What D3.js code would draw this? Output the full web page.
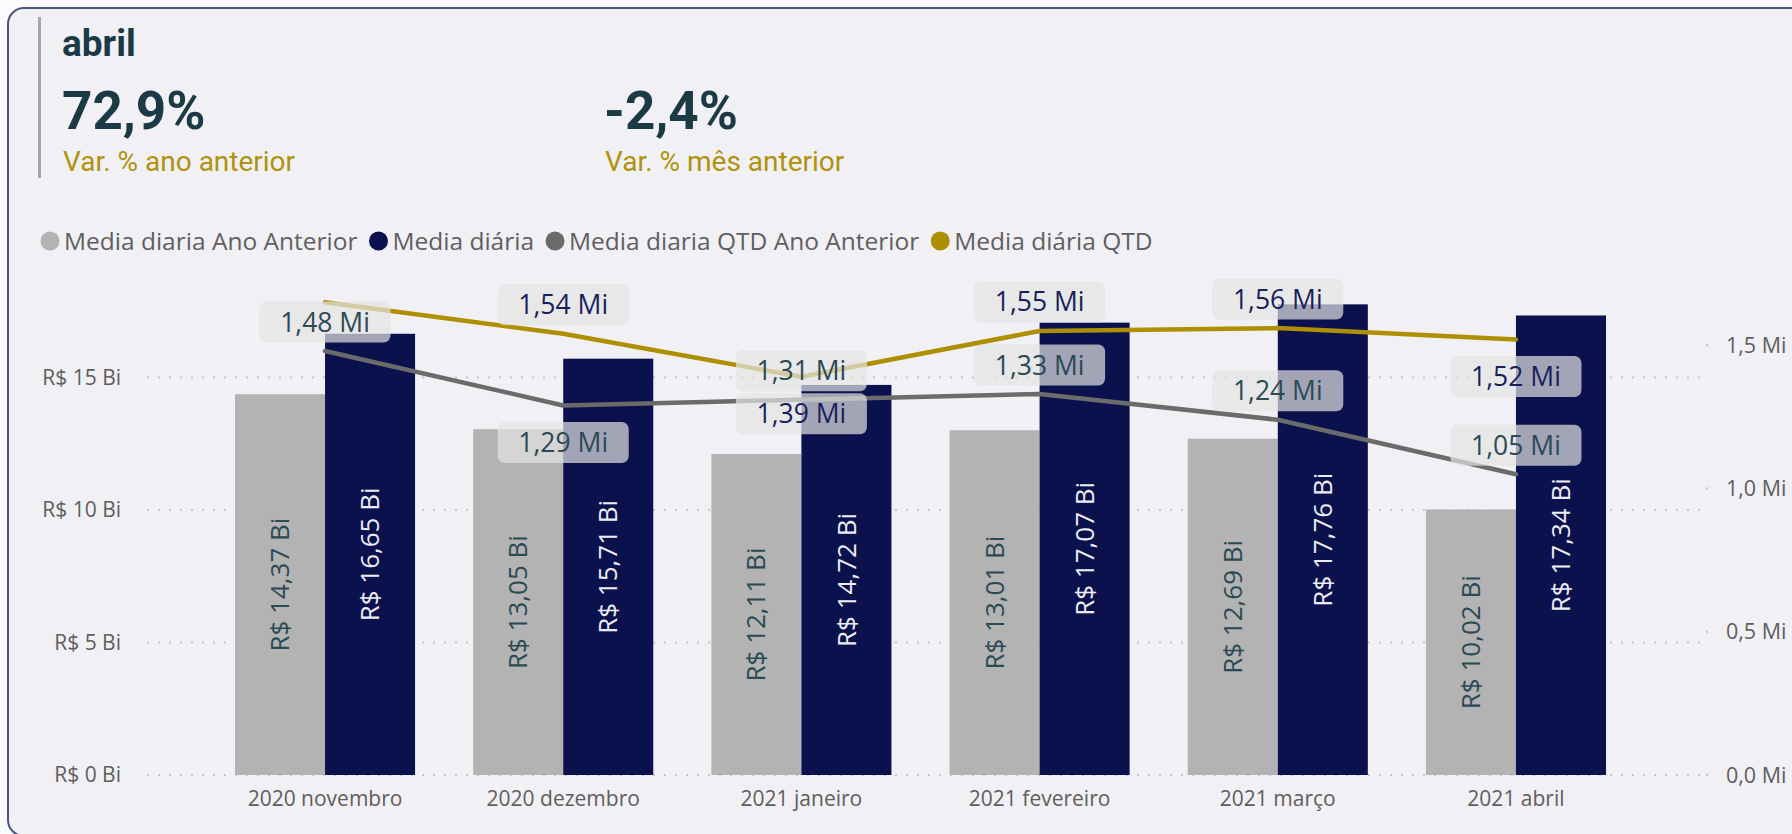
<!DOCTYPE html>
<html>
<head>
<meta charset="utf-8">
<script src="https://cdn.jsdelivr.net/npm/d3@7"></script>
<style>
  html, body { margin: 0; padding: 0; background: #fbfbfd; }
  svg { display: block; }
</style>
</head>
<body>
<div id="chart"></div>
<script>
const months           = ['2020 novembro', '2020 dezembro', '2021 janeiro', '2021 fevereiro', '2021 março', '2021 abril'];
const mediaAnoAnterior = [14.37, 13.05, 12.11, 13.01, 12.69, 10.02];   // R$ Bi
const mediaDiaria      = [16.65, 15.71, 14.72, 17.07, 17.76, 17.34];   // R$ Bi
const qtdAnoAnterior   = [1.48, 1.29, 1.31, 1.33, 1.24, 1.05];         // Mi
const qtdAtual         = [1.65, 1.54, 1.39, 1.55, 1.56, 1.52];         // Mi
const leftTicks        = [0, 5, 10, 15];
const rightTicks       = [0, 0.5, 1.0, 1.5];
const kpiValues        = ['72,9%', '-2,4%'];
const kpiLabels        = ['Var. % ano anterior', 'Var. % mês anterior'];
const legendNames      = ['Media diaria Ano Anterior', 'Media diária', 'Media diaria QTD Ano Anterior', 'Media diária QTD'];

// onde o rótulo fica (acima / abaixo do ponto); null = sem rótulo
const qtdAtualLabelPos = [null, 'up', 'down', 'up', 'up', 'down'];
const qtdAALabelPos    = ['up', 'down', 'up', 'up', 'up', 'up'];

const colors = {
	barAA   : '#b3b3b3',
	bar     : '#0a114d',
	lineAA  : '#6b6b6b',
	line    : '#ad8f00'
};

const W = 1792, H = 834;
const ptBR = d3.formatLocale( { decimal : ',', thousands : '.', grouping : [3], currency : ['R$ ', ''] } );
const f2 = ptBR.format( '.2f' );
const f1 = ptBR.format( '.1f' );

const svg = d3.select( '#chart' )
	.append( 'svg' )
	.attr( 'width', W )
	.attr( 'height', H );

// cartão
svg.append( 'rect' )
	.attr( 'x', 8 ).attr( 'y', 8 )
	.attr( 'width', 1900 ).attr( 'height', 828 )
	.attr( 'rx', 16 )
	.attr( 'fill', '#f1f0f5' )
	.attr( 'stroke', '#4a5480' )
	.attr( 'stroke-width', 2 );

svg.append( 'rect' )
	.attr( 'x', 38 ).attr( 'y', 17 )
	.attr( 'width', 3 ).attr( 'height', 161 )
	.attr( 'fill', '#a6a6a6' );

svg.append( 'text' )
	.attr( 'x', 62 ).attr( 'y', 56 )
	.attr( 'font-family', 'Roboto' )
	.attr( 'font-weight', 700 )
	.attr( 'font-size', 37 )
	.attr( 'fill', '#1c3a46' )
	.text( 'abril' );

const kpiX = [62, 604];
kpiValues.forEach( ( v, i ) => {
	svg.append( 'text' )
		.attr( 'x', kpiX[i] ).attr( 'y', 129 )
		.attr( 'font-family', 'Roboto' )
		.attr( 'font-weight', 700 )
		.attr( 'font-size', 53 )
		.attr( 'fill', '#1c3a46' )
		.text( v );
	svg.append( 'text' )
		.attr( 'x', kpiX[i] + 1 ).attr( 'y', 171 )
		.attr( 'font-family', 'Roboto' )
		.attr( 'font-size', 28 )
		.attr( 'fill', '#b0920c' )
		.text( kpiLabels[i] );
} );

// legenda
const legendColors = [colors.barAA, colors.bar, colors.lineAA, colors.line];
const legend = svg.append( 'g' ).attr( 'transform', 'translate(0,241)' );
let lx = 50;
legendNames.forEach( ( name, i ) => {
	legend.append( 'circle' )
		.attr( 'cx', lx ).attr( 'cy', 0 ).attr( 'r', 9.5 )
		.attr( 'fill', legendColors[i] );
	const t = legend.append( 'text' )
		.attr( 'x', lx + 14 ).attr( 'y', 0 )
		.attr( 'dy', '0.35em' )
		.attr( 'font-family', 'Open Sans' )
		.attr( 'font-size', 24.5 )
		.attr( 'fill', '#5f5f5f' )
		.text( name );
	lx += 14 + t.node().getComputedTextLength() + 21;
} );

// escalas
const x = d3.scaleBand()
	.domain( months )
	.range( [235, 1606] )
	.paddingInner( 0.244 )
	.paddingOuter( 0 );

const sub = d3.scaleBand()
	.domain( ['aa', 'atual'] )
	.range( [0, x.bandwidth()] );

const yLeft = d3.scaleLinear()
	.domain( [0, 20] )
	.range( [775, 245] );

const yRight = d3.scaleLinear()
	.domain( [0, 1.85] )
	.range( [775, 245] );

// grade pontilhada
svg.append( 'g' )
	.selectAll( 'line' )
	.data( leftTicks )
	.join( 'line' )
	.attr( 'x1', 147 ).attr( 'x2', 1707 )
	.attr( 'y1', d => yLeft( d ) ).attr( 'y2', d => yLeft( d ) )
	.attr( 'stroke', '#c6c6c6' )
	.attr( 'stroke-width', 2 )
	.attr( 'stroke-dasharray', '2,9' );

svg.append( 'g' )
	.selectAll( 'text' )
	.data( leftTicks )
	.join( 'text' )
	.attr( 'x', 121 )
	.attr( 'y', d => yLeft( d ) )
	.attr( 'dy', '0.35em' )
	.attr( 'text-anchor', 'end' )
	.attr( 'font-family', 'Open Sans' )
	.attr( 'font-size', 21 )
	.attr( 'fill', '#605e5c' )
	.text( d => `R$ ${d} Bi` );

const rAxis = svg.append( 'g' );
rAxis.selectAll( 'circle' )
	.data( rightTicks )
	.join( 'circle' )
	.attr( 'cx', 1707 ).attr( 'cy', d => yRight( d ) ).attr( 'r', 1.2 )
	.attr( 'fill', '#c6c6c6' );
rAxis.selectAll( 'text' )
	.data( rightTicks )
	.join( 'text' )
	.attr( 'x', 1726 )
	.attr( 'y', d => yRight( d ) )
	.attr( 'dy', '0.35em' )
	.attr( 'font-family', 'Open Sans' )
	.attr( 'font-size', 21.5 )
	.attr( 'fill', '#605e5c' )
	.text( d => `${f1( d )} Mi` );

svg.append( 'g' )
	.selectAll( 'text' )
	.data( months )
	.join( 'text' )
	.attr( 'x', d => x( d ) + x.bandwidth() / 2 )
	.attr( 'y', 806 )
	.attr( 'text-anchor', 'middle' )
	.attr( 'font-family', 'Open Sans' )
	.attr( 'font-size', 21 )
	.attr( 'fill', '#605e5c' )
	.text( d => d );

// barras
const barRows = months.map( ( m, i ) => ( { m, aa : mediaAnoAnterior[i], atual : mediaDiaria[i] } ) );

const groups = svg.append( 'g' )
	.selectAll( 'g' )
	.data( barRows )
	.join( 'g' )
	.attr( 'transform', d => `translate(${x( d.m )},0)` );

groups.append( 'rect' )
	.attr( 'x', sub( 'aa' ) )
	.attr( 'y', d => yLeft( d.aa ) )
	.attr( 'width', sub.bandwidth() )
	.attr( 'height', d => yLeft( 0 ) - yLeft( d.aa ) )
	.attr( 'fill', colors.barAA );

groups.append( 'rect' )
	.attr( 'x', sub( 'atual' ) )
	.attr( 'y', d => yLeft( d.atual ) )
	.attr( 'width', sub.bandwidth() )
	.attr( 'height', d => yLeft( 0 ) - yLeft( d.atual ) )
	.attr( 'fill', colors.bar );

// linhas
const cx = i => x( months[i] ) + x.bandwidth() / 2;

const line = d3.line()
	.x( ( d, i ) => cx( i ) )
	.y( d => yRight( d ) );

svg.append( 'path' )
	.datum( qtdAnoAnterior )
	.attr( 'd', line )
	.attr( 'fill', 'none' )
	.attr( 'stroke', colors.lineAA )
	.attr( 'stroke-width', 4.5 )
	.attr( 'stroke-linejoin', 'round' )
	.attr( 'stroke-linecap', 'round' );

svg.append( 'path' )
	.datum( qtdAtual )
	.attr( 'd', line )
	.attr( 'fill', 'none' )
	.attr( 'stroke', colors.line )
	.attr( 'stroke-width', 4.5 )
	.attr( 'stroke-linejoin', 'round' )
	.attr( 'stroke-linecap', 'round' );

// rótulos das barras (verticais, centrados)
groups.append( 'text' )
	.attr( 'transform', d => `translate(${sub( 'aa' ) + sub.bandwidth() / 2},${( yLeft( d.aa ) + yLeft( 0 ) ) / 2}) rotate(-90)` )
	.attr( 'text-anchor', 'middle' )
	.attr( 'dy', '0.35em' )
	.attr( 'font-family', 'Open Sans' )
	.attr( 'font-size', 26 )
	.attr( 'fill', '#2b4a53' )
	.text( d => `R$ ${f2( d.aa )} Bi` );

groups.append( 'text' )
	.attr( 'transform', d => `translate(${sub( 'atual' ) + sub.bandwidth() / 2},${( yLeft( d.atual ) + yLeft( 0 ) ) / 2}) rotate(-90)` )
	.attr( 'text-anchor', 'middle' )
	.attr( 'dy', '0.35em' )
	.attr( 'font-family', 'Open Sans' )
	.attr( 'font-size', 26 )
	.attr( 'fill', '#ececf2' )
	.text( d => `R$ ${f2( d.atual )} Bi` );

// rótulos das linhas
const labelRows = [];
qtdAnoAnterior.forEach( ( v, i ) => {
	if ( qtdAALabelPos[i] ) labelRows.push( { i, v, pos : qtdAALabelPos[i], color : '#2b4a53' } );
} );
qtdAtual.forEach( ( v, i ) => {
	if ( qtdAtualLabelPos[i] ) labelRows.push( { i, v, pos : qtdAtualLabelPos[i], color : '#1a1f5c' } );
} );

const boxW = 131, boxH = 41;
const lbl = svg.append( 'g' )
	.selectAll( 'g' )
	.data( labelRows )
	.join( 'g' )
	.attr( 'transform', d => {
		const cy = yRight( d.v ) + ( d.pos === 'up' ? -29 : 37 );
		return `translate(${cx( d.i )},${cy})`;
	} );

lbl.append( 'rect' )
	.attr( 'x', -boxW / 2 ).attr( 'y', -boxH / 2 )
	.attr( 'width', boxW ).attr( 'height', boxH )
	.attr( 'rx', 7 )
	.attr( 'fill', 'rgba(228,228,228,0.7)' );

lbl.append( 'text' )
	.attr( 'text-anchor', 'middle' )
	.attr( 'dy', '0.36em' )
	.attr( 'font-family', 'Open Sans' )
	.attr( 'font-size', 26.5 )
	.attr( 'fill', d => d.color )
	.text( d => `${f2( d.v )} Mi` );
</script>
</body>
</html>
